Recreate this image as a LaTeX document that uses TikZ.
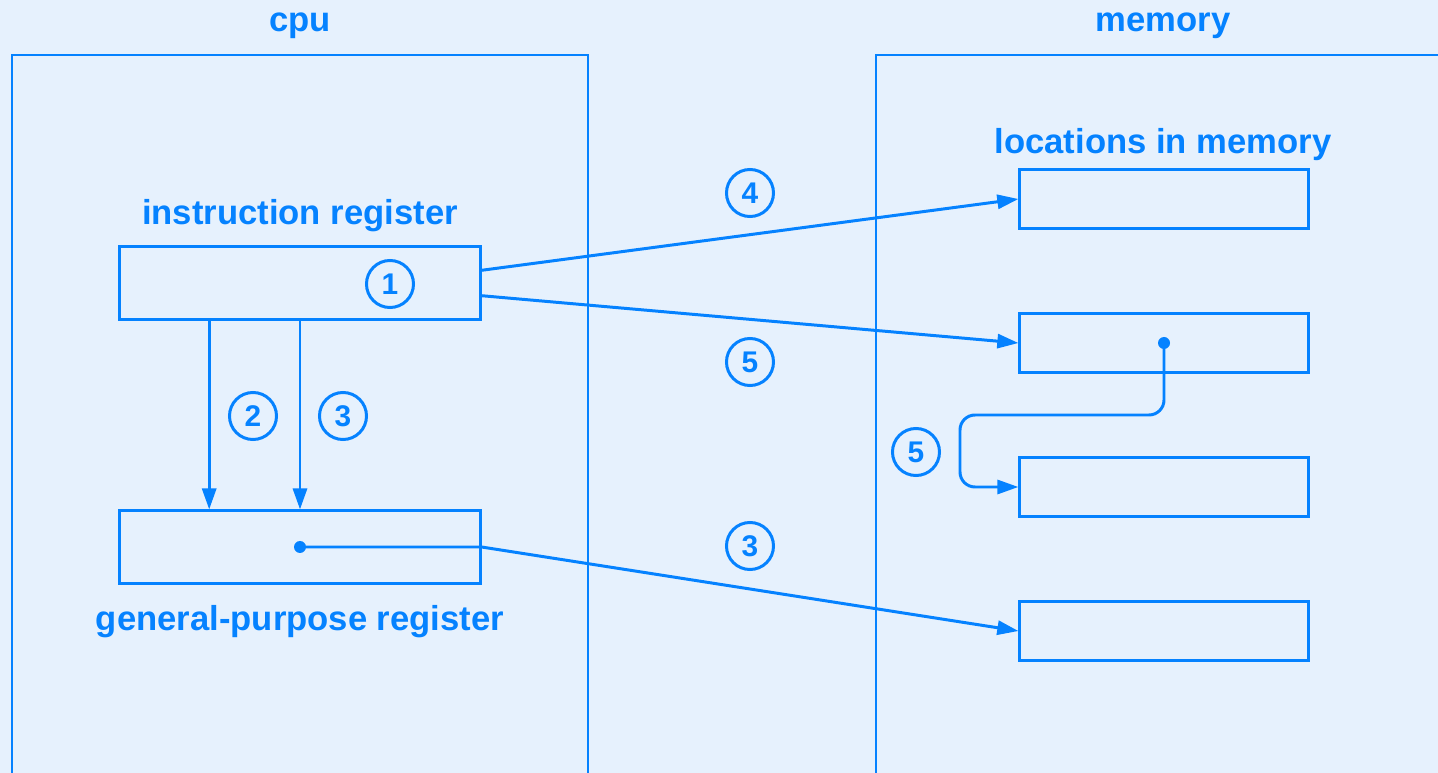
\documentclass[tikz,border=0pt]{standalone}
\usepackage{fontspec}
\setmainfont{Liberation Sans}
\usepackage{tikz}
\usepackage{xcolor}
\usetikzlibrary{arrows.meta,calc}

\definecolor{lineblue}{RGB}{5,130,255}
\definecolor{bgblue}{RGB}{230,241,253}

\tikzset{
  reg/.style={draw=lineblue,line width=0.85pt,minimum width=3.6cm,minimum height=0.72cm,inner sep=0pt},
  loc/.style={draw=lineblue,line width=0.85pt,minimum width=2.88cm,minimum height=0.58cm,inner sep=0pt},
  num/.style={circle,draw=lineblue,line width=0.85pt,minimum size=0.47cm,inner sep=0pt,text=lineblue,font=\fontsize{8.5}{10}\selectfont\bfseries},
  lbl/.style={text=lineblue,font=\fontsize{9.85}{12}\selectfont\bfseries}
}

\begin{document}
\begin{tikzpicture}[x=0.01cm,y=-0.01cm,line width=0.85pt,>={Triangle[length=6pt,width=4pt]}]
\fill[bgblue](0,0)rectangle(1438,773);
\useasboundingbox(0,0)rectangle(1438,773);
% the two units
\draw[lineblue](12,773)|-(588,55)--(588,773);
\draw[lineblue](876,773)|-(1438,55);
\node[lbl] (cpu) at (300,26) {cpu};
\node[lbl] (mem) at (1163,26) {memory};
% registers
\node[lbl] (irlabel) at (300,216) {instruction register};
\node[reg] (ir) at (300,283) {};
\node[reg] (gpr) at (300,547) {};
\node[lbl] (gprlabel) at (300,622) {general-purpose register};
% locations in memory
\node[lbl] (loclabel) at (1163,145) {locations in memory};
\node[loc] (m1) at (1164,199) {};
\node[loc] (m2) at (1164,343) {};
\node[loc] (m3) at (1164,487) {};
\node[loc] (m4) at (1164,631) {};
% steps
\node[num] (s1) at (390,284) {1};
\node[num] (s2) at (253,416) {2};
\node[num] (s3) at (343,416) {3};
\node[num] (s4) at (750,193) {4};
\node[num] (s5) at (750,362) {5};
\node[num] (s5b) at (916,452) {5};
\node[num] (s3b) at (750,546) {3};
% connectors
\draw[lineblue,->]($(ir.south)!0.5!(ir.south west)$)--($(gpr.north)!0.5!(gpr.north west)$);
\draw[lineblue,->](ir.south)--(gpr.north);
\draw[lineblue,->](ir.4)--(m1.west);
\draw[lineblue,->](ir.-4)--(m2.west);
\fill[lineblue](gpr.center)circle[radius=6];
\draw[lineblue,->](gpr.center)--(gpr.east)--(m4.west);
\coordinate (bend) at (960,415);
\fill[lineblue](m2.center)circle[radius=6];
\draw[lineblue,->,rounded corners=0.15cm](m2.center)|-(bend)|-(m3.west);
\end{tikzpicture}
\end{document}
